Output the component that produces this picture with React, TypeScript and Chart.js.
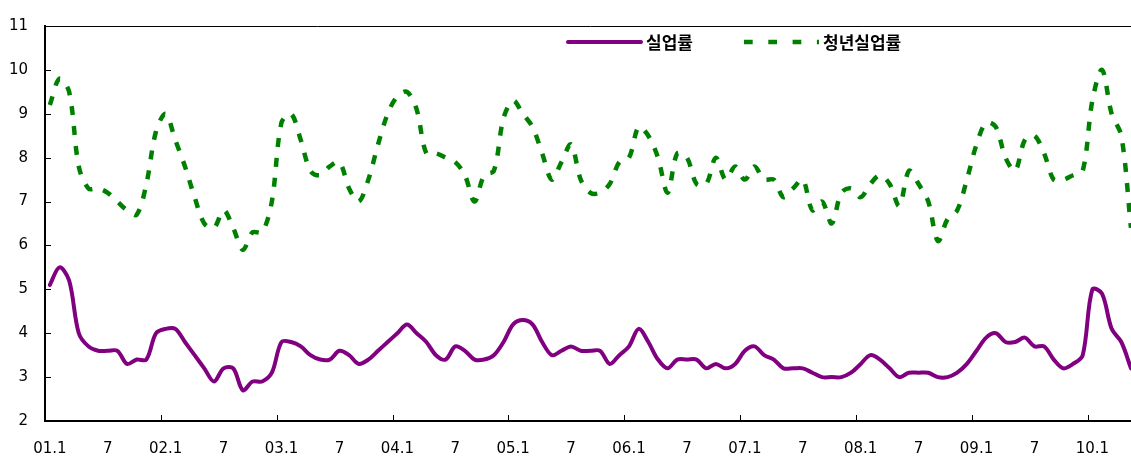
import React, { useEffect, useRef } from "react";
import { Chart, registerables } from "chart.js";

Chart.register(...registerables);

// Monthly categories 2001.01 – 2010.05
const categories: string[] = [];
for (let y = 2001; y <= 2010; y++) {
  for (let m = 1; m <= 12; m++) {
    if (y === 2010 && m > 5) break;
    categories.push(`${y}.${String(m).padStart(2, "0")}`);
  }
}

// Axis labels shown every six months
const axisLabels = [
  "01.1", "7", "02.1", "7", "03.1", "7", "04.1", "7", "05.1", "7",
  "06.1", "7", "07.1", "7", "08.1", "7", "09.1", "7", "10.1",
];

const seriesNames = ["실업률", "청년실업률"];

// 실업률
const unemployment = [
  5.1, 5.5, 5.2, 4.0, 3.7, 3.6, 3.6, 3.6, 3.3, 3.4,
  3.4, 4.0, 4.1, 4.1, 3.8, 3.5, 3.2, 2.9, 3.2, 3.2,
  2.7, 2.9, 2.9, 3.1, 3.8, 3.8, 3.7, 3.5, 3.4, 3.4,
  3.6, 3.5, 3.3, 3.4, 3.6, 3.8, 4.0, 4.2, 4.0, 3.8,
  3.5, 3.4, 3.7, 3.6, 3.4, 3.4, 3.5, 3.8, 4.2, 4.3,
  4.2, 3.8, 3.5, 3.6, 3.7, 3.6, 3.6, 3.6, 3.3, 3.5,
  3.7, 4.1, 3.8, 3.4, 3.2, 3.4, 3.4, 3.4, 3.2, 3.3,
  3.2, 3.3, 3.6, 3.7, 3.5, 3.4, 3.2, 3.2, 3.2, 3.1,
  3.0, 3.0, 3.0, 3.1, 3.3, 3.5, 3.4, 3.2, 3.0, 3.1,
  3.1, 3.1, 3.0, 3.0, 3.1, 3.3, 3.6, 3.9, 4.0, 3.8,
  3.8, 3.9, 3.7, 3.7, 3.4, 3.2, 3.3, 3.5, 5.0, 4.9,
  4.1, 3.8, 3.2,
];

// 청년실업률
const youthUnemployment = [
  9.2, 9.8, 9.5, 7.8, 7.3, 7.3, 7.2, 7.0, 6.8, 6.7,
  7.4, 8.6, 9.0, 8.4, 7.8, 7.1, 6.5, 6.4, 6.8, 6.4,
  5.9, 6.3, 6.3, 7.0, 8.8, 9.0, 8.4, 7.7, 7.6, 7.8,
  7.9, 7.3, 7.0, 7.5, 8.3, 9.0, 9.4, 9.5, 9.1, 8.1,
  8.1, 8.0, 7.9, 7.6, 7.0, 7.6, 7.7, 8.9, 9.3, 9.0,
  8.7, 8.1, 7.5, 7.9, 8.3, 7.5, 7.2, 7.2, 7.4, 7.9,
  8.0, 8.7, 8.5, 8.0, 7.2, 8.1, 8.0, 7.4, 7.4, 8.0,
  7.5, 7.8, 7.5, 7.8, 7.5, 7.5, 7.1, 7.3, 7.5, 6.8,
  7.0, 6.5, 7.2, 7.3, 7.1, 7.4, 7.6, 7.4, 6.9, 7.7,
  7.4, 7.0, 6.1, 6.6, 6.8, 7.5, 8.3, 8.8, 8.7, 8.0,
  7.7, 8.4, 8.5, 8.1, 7.5, 7.5, 7.6, 7.7, 9.3, 10.0,
  9.0, 8.5, 6.4,
];

const PURPLE = "#800080";
const GREEN = "#008000";
const GREEN_DASH = [9, 11];
const LEGEND_DASH = [8.7, 15.6];
const TICK_FONT = { family: "'DejaVu Sans', sans-serif", size: 15 };
const LEGEND_FONT = "bold 17px 'Noto Sans CJK KR', sans-serif";

const framePlugin = {
  id: "frame",
  beforeDatasetsDraw(chart: any) {
    const { ctx, chartArea, scales } = chart;
    const x = scales.x;
    const y = scales.y;
    ctx.save();
    ctx.strokeStyle = "#000";
    ctx.lineWidth = 1;
    ctx.beginPath();
    ctx.moveTo(chartArea.left, chartArea.top + 0.5);
    ctx.lineTo(chartArea.right, chartArea.top + 0.5);
    ctx.stroke();
    ctx.beginPath();
    for (let v = 3; v <= 10; v++) {
      const py = Math.round(y.getPixelForValue(v)) + 0.5;
      ctx.moveTo(chartArea.left, py);
      ctx.lineTo(chartArea.left + 6, py);
    }
    for (let i = 12; i < categories.length; i += 12) {
      const px =
        Math.round((x.getPixelForValue(i - 1) + x.getPixelForValue(i)) / 2) + 0.5;
      ctx.moveTo(px, chartArea.bottom);
      ctx.lineTo(px, chartArea.bottom - 6);
    }
    ctx.stroke();
    ctx.restore();
  },
};

const legendPlugin = {
  id: "insideLegend",
  afterDraw(chart: any) {
    const { ctx } = chart;
    const ly = 42;
    ctx.save();
    ctx.font = LEGEND_FONT;
    ctx.fillStyle = "#000";
    ctx.textBaseline = "middle";
    ctx.textAlign = "left";

    ctx.strokeStyle = PURPLE;
    ctx.lineWidth = 4;
    ctx.lineCap = "round";
    ctx.beginPath();
    ctx.moveTo(568, ly);
    ctx.lineTo(641, ly);
    ctx.stroke();
    ctx.fillText(seriesNames[0], 646, ly + 1);

    ctx.strokeStyle = GREEN;
    ctx.lineWidth = 4.5;
    ctx.lineCap = "butt";
    ctx.setLineDash(LEGEND_DASH);
    ctx.beginPath();
    ctx.moveTo(744, ly);
    ctx.lineTo(819, ly);
    ctx.stroke();
    ctx.setLineDash([]);
    ctx.fillText(seriesNames[1], 823, ly + 1);
    ctx.restore();
  },
};

export default function App() {
  const canvasRef = useRef<HTMLCanvasElement | null>(null);

  useEffect(() => {
    if (!canvasRef.current) return;
    const chart = new Chart(canvasRef.current, {
      type: "line",
      data: {
        labels: categories,
        datasets: [
          {
            label: seriesNames[0],
            data: unemployment,
            borderColor: PURPLE,
            backgroundColor: PURPLE,
            borderWidth: 4,
            borderCapStyle: "round",
            borderJoinStyle: "round",
            pointRadius: 0,
            tension: 0.33,
            fill: false,
          },
          {
            label: seriesNames[1],
            data: youthUnemployment,
            borderColor: GREEN,
            backgroundColor: GREEN,
            borderWidth: 4.5,
            borderDash: GREEN_DASH,
            borderCapStyle: "butt",
            pointRadius: 0,
            tension: 0.33,
            fill: false,
          },
        ],
      },
      options: {
        animation: false,
        responsive: false,
        devicePixelRatio: 1,
        layout: { padding: { top: 12, right: 6, left: 0, bottom: 0 } },
        plugins: {
          legend: { display: false },
          tooltip: { enabled: false },
        },
        scales: {
          x: {
            type: "category",
            offset: true,
            grid: { display: false, drawTicks: false },
            border: { display: true, color: "#000", width: 2 },
            ticks: {
              autoSkip: false,
              maxRotation: 0,
              minRotation: 0,
              padding: 19,
              color: "#000",
              font: TICK_FONT,
              callback: (_v: any, i: number) =>
                i % 6 === 0 ? axisLabels[i / 6] ?? "" : "",
            },
            afterFit: (s: any) => {
              s.height = 42;
            },
          },
          y: {
            min: 2,
            max: 11,
            grid: { display: false, drawTicks: false },
            border: { display: true, color: "#000", width: 2 },
            ticks: {
              stepSize: 1,
              padding: 17,
              color: "#000",
              font: TICK_FONT,
            },
            afterFit: (s: any) => {
              s.width = 45;
            },
          },
        },
      },
      plugins: [framePlugin, legendPlugin],
    });
    return () => chart.destroy();
  }, []);

  return (
    <div
      style={{
        position: "fixed",
        left: 0,
        top: 0,
        width: 1131,
        height: 463,
        overflow: "hidden",
        background: "#fff",
      }}
    >
      <canvas
        ref={canvasRef}
        width={1150}
        height={463}
        style={{ display: "block", width: 1150, height: 463 }}
      />
    </div>
  );
}
